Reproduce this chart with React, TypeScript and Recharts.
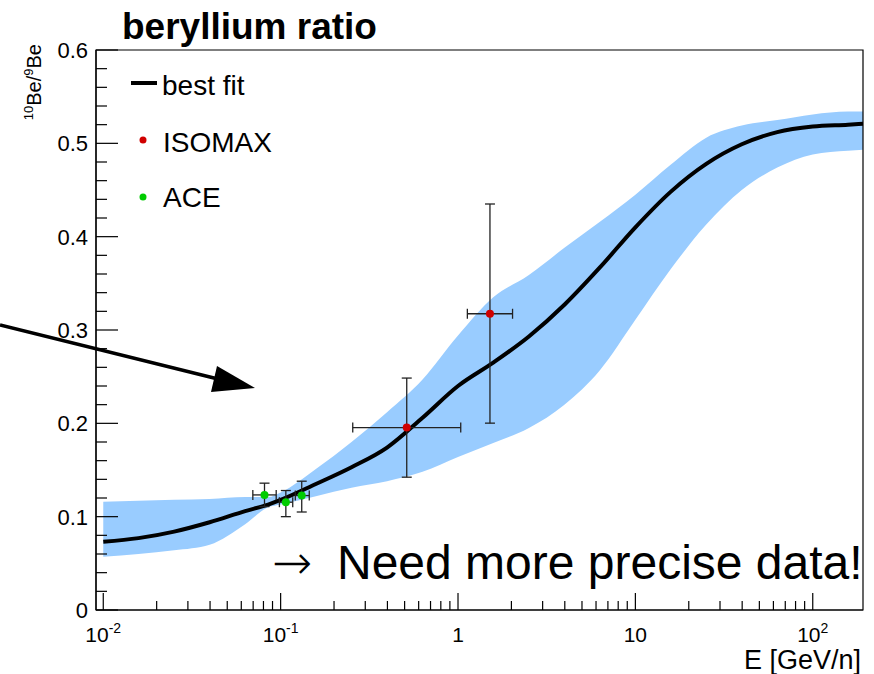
import React from 'react';
import {
  ComposedChart,
  XAxis,
  YAxis,
  Area,
  Line,
  Scatter,
  ErrorBar,
  Legend,
  ReferenceArea,
} from 'recharts';

const FONT = '"Liberation Sans", Arial, Helvetica, sans-serif';

// ---- best-fit curve and uncertainty band ----
const energies = [0.01, 0.0158, 0.0251, 0.0398, 0.0631, 0.085, 0.1, 0.158, 0.251, 0.398, 0.631, 1, 1.58, 2.51, 3.98, 6.31, 10, 15.8, 25.1, 39.8, 63.1, 100, 158, 192];
const bestFit = [0.073, 0.077, 0.084, 0.094, 0.106, 0.113, 0.118, 0.135, 0.153, 0.174, 0.206, 0.240, 0.265, 0.293, 0.327, 0.367, 0.410, 0.448, 0.478, 0.499, 0.512, 0.518, 0.520, 0.521];
const bandHigh = [0.116, 0.117, 0.118, 0.119, 0.121, 0.121, 0.126, 0.151, 0.180, 0.212, 0.247, 0.294, 0.335, 0.359, 0.388, 0.416, 0.445, 0.477, 0.506, 0.519, 0.525, 0.531, 0.534, 0.534];
const bandLow = [0.057, 0.060, 0.064, 0.070, 0.092, 0.110, 0.113, 0.122, 0.131, 0.138, 0.148, 0.164, 0.179, 0.195, 0.220, 0.257, 0.311, 0.365, 0.413, 0.450, 0.474, 0.488, 0.492, 0.493];

// ---- ISOMAX measurements ----
const isomaxE = [0.514, 1.514];
const isomaxV = [0.1955, 0.3174];
const isomaxEMin = [0.255, 1.129];
const isomaxEMax = [1.036, 2.03];
const isomaxVMin = [0.1423, 0.2002];
const isomaxVMax = [0.2485, 0.435];

// ---- ACE measurements ----
const aceE = [0.0811, 0.107, 0.1315];
const aceV = [0.1233, 0.1155, 0.1226];
const aceEMin = [0.0697, 0.0984, 0.121];
const aceEMax = [0.0944, 0.117, 0.145];
const aceVMin = [0.1108, 0.1, 0.105];
const aceVMax = [0.1359, 0.128, 0.138];

// ---- axes ----
const xDomain = [0.0091, 192];
const xMajorTicks = [0.01, 0.1, 1, 10, 100];
const xMajorBase = ['10', '10', '1', '10', '10'];
const xMajorExp = ['-2', '-1', '', '', '2'];
const xMinorTicks = [
  0.02, 0.03, 0.04, 0.05, 0.06, 0.07, 0.08, 0.09,
  0.2, 0.3, 0.4, 0.5, 0.6, 0.7, 0.8, 0.9,
  2, 3, 4, 5, 6, 7, 8, 9,
  20, 30, 40, 50, 60, 70, 80, 90,
];
const yDomain = [0, 0.6];
const yMajorTicks = [0, 0.1, 0.2, 0.3, 0.4, 0.5, 0.6];
const yMajorLabels = ['0', '0.1', '0.2', '0.3', '0.4', '0.5', '0.6'];
const yMinorTicks = [0.02, 0.04, 0.06, 0.08, 0.12, 0.14, 0.16, 0.18, 0.22, 0.24, 0.26, 0.28, 0.32, 0.34, 0.36, 0.38, 0.42, 0.44, 0.46, 0.48, 0.52, 0.54, 0.56, 0.58];

const legendNames = ['best fit', 'ISOMAX', 'ACE'];
const BAND = '#99ccff';
const RED = '#d00000';
const GREEN = '#00cc00';

const curveData = energies.map((E, i) => ({ E, fit: bestFit[i], band: [bandLow[i], bandHigh[i]] }));
const isomaxData = isomaxE.map((E, i) => ({
  E,
  v: isomaxV[i],
  ex: [E - isomaxEMin[i], isomaxEMax[i] - E],
  ey: [isomaxV[i] - isomaxVMin[i], isomaxVMax[i] - isomaxV[i]],
}));
const aceData = aceE.map((E, i) => ({
  E,
  v: aceV[i],
  ex: [E - aceEMin[i], aceEMax[i] - E],
  ey: [aceV[i] - aceVMin[i], aceVMax[i] - aceV[i]],
}));

const xTicks = [...xMajorTicks, ...xMinorTicks].sort((a, b) => a - b);
const yTicks = [...yMajorTicks, ...yMinorTicks].sort((a, b) => a - b);

function XTick(props: any) {
  const { x, y, payload } = props;
  const v = payload.value;
  const idx = xMajorTicks.findIndex((t) => Math.abs(t - v) / t < 1e-6);
  const major = idx >= 0;
  return (
    <g>
      <line x1={x} x2={x} y1={y} y2={y - (major ? 17 : 9)} stroke="#000" strokeWidth={1.2} />
      {major && (
        <text x={x} y={y + 32} textAnchor="middle" fontSize={21} fontFamily={FONT} fill="#000">
          {xMajorBase[idx]}
          {xMajorExp[idx] ? (
            <tspan dy={-9} fontSize={14}>
              {xMajorExp[idx]}
            </tspan>
          ) : null}
        </text>
      )}
    </g>
  );
}

function YTick(props: any) {
  const { x, y, payload } = props;
  const v = payload.value;
  const idx = yMajorTicks.findIndex((t) => Math.abs(t - v) < 1e-6);
  const major = idx >= 0;
  return (
    <g>
      <line x1={x} x2={x + (major ? 22 : 11)} y1={y} y2={y} stroke="#000" strokeWidth={1.2} />
      {major && (
        <text x={x - 8} y={y} dy="0.36em" textAnchor="end" fontSize={22} fontFamily={FONT} fill="#000">
          {yMajorLabels[idx]}
        </text>
      )}
    </g>
  );
}

function LegendBox() {
  return (
    <svg width={160} height={170} style={{ display: 'block', overflow: 'visible' }}>
      <line x1={11} x2={37} y1={23} y2={23} stroke="#000" strokeWidth={4} />
      <text x={42} y={35} fontSize={28} fontFamily={FONT} fill="#000">{legendNames[0]}</text>
      <circle cx={23} cy={80} r={3.5} fill={RED} />
      <text x={43} y={92} fontSize={28} fontFamily={FONT} fill="#000">{legendNames[1]}</text>
      <circle cx={23} cy={137} r={3.5} fill={GREEN} />
      <text x={43} y={147} fontSize={28} fontFamily={FONT} fill="#000">{legendNames[2]}</text>
    </svg>
  );
}

const dot = (color: string) => (p: any) => <circle cx={p.cx} cy={p.cy} r={4} fill={color} />;

export default function App() {
  return (
    <div style={{ position: 'absolute', left: 0, top: 0, width: 874, height: 674, background: '#fff' }}>
      <ComposedChart
        width={874}
        height={674}
        data={curveData}
        margin={{ top: 50, right: 11, bottom: 34, left: 36 }}
      >
        <XAxis
          dataKey="E"
          type="number"
          scale="log"
          domain={xDomain}
          allowDataOverflow
          ticks={xTicks}
          interval={0}
          tickLine={false}
          tickSize={0}
          tickMargin={0}
          tick={(p: any) => <XTick {...p} />}
          axisLine={{ stroke: '#000', strokeWidth: 1.2 }}
          height={30}
        />
        <YAxis
          type="number"
          domain={yDomain}
          allowDataOverflow
          ticks={yTicks}
          interval={0}
          tickLine={false}
          tickSize={0}
          tickMargin={0}
          tick={(p: any) => <YTick {...p} />}
          axisLine={{ stroke: '#000', strokeWidth: 1.2 }}
          width={60}
        />
        <Area
          dataKey="band"
          type="monotone"
          fill={BAND}
          fillOpacity={1}
          stroke="none"
          isAnimationActive={false}
          legendType="none"
          activeDot={false}
          dot={false}
        />
        <Line
          dataKey="fit"
          name={legendNames[0]}
          type="monotone"
          stroke="#000"
          strokeWidth={4}
          dot={false}
          activeDot={false}
          isAnimationActive={false}
        />
        <Scatter
          name={legendNames[1]}
          data={isomaxData}
          dataKey="v"
          fill={RED}
          shape={dot(RED)}
          isAnimationActive={false}
        >
          <ErrorBar dataKey="ex" direction="x" width={5} stroke="#222" strokeWidth={1.3} />
          <ErrorBar dataKey="ey" direction="y" width={5} stroke="#222" strokeWidth={1.3} />
        </Scatter>
        <Scatter
          name={legendNames[2]}
          data={aceData}
          dataKey="v"
          fill={GREEN}
          shape={dot(GREEN)}
          isAnimationActive={false}
        >
          <ErrorBar dataKey="ex" direction="x" width={5} stroke="#222" strokeWidth={1.3} />
          <ErrorBar dataKey="ey" direction="y" width={5} stroke="#222" strokeWidth={1.3} />
        </Scatter>
        <ReferenceArea
          x1={xDomain[0]}
          x2={xDomain[1]}
          y1={yDomain[0]}
          y2={yDomain[1]}
          fill="none"
          fillOpacity={0}
          stroke="#000"
          strokeWidth={1.2}
          ifOverflow="visible"
        />
        <Legend
          layout="vertical"
          align="center"
          verticalAlign="middle"
          content={() => <LegendBox />}
          wrapperStyle={{ position: 'absolute', left: 120, top: 60, width: 160, height: 170 }}
        />
      </ComposedChart>
      <svg
        width={874}
        height={674}
        style={{ position: 'absolute', left: 0, top: 0, pointerEvents: 'none', overflow: 'visible' }}
      >
        <text x={122} y={39} fontSize={37} fontWeight="bold" fontFamily={FONT} fill="#000">
          beryllium ratio
        </text>
        <text
          transform="translate(41,44) rotate(-90)"
          textAnchor="end"
          fontSize={20}
          fontFamily={FONT}
          fill="#000"
        >
          <tspan fontSize={13} dy={-8}>10</tspan>
          <tspan dy={8}>Be/</tspan>
          <tspan fontSize={13} dy={-8}>9</tspan>
          <tspan dy={8}>Be</tspan>
        </text>
        <text x={861} y={669} textAnchor="end" fontSize={27} fontFamily={FONT} fill="#000">
          E [GeV/n]
        </text>
        <line x1={0} y1={325} x2={222} y2={380} stroke="#000" strokeWidth={3.5} />
        <polygon points="255,388 217,366 211,392" fill="#000" />
        <text y={579} fontSize={48} fontFamily={FONT} fill="#000">
          <tspan x={272} fontFamily='"DejaVu Sans", sans-serif' fontWeight={200}>→</tspan>
          <tspan x={337}>Need more precise data!</tspan>
        </text>
      </svg>
    </div>
  );
}
